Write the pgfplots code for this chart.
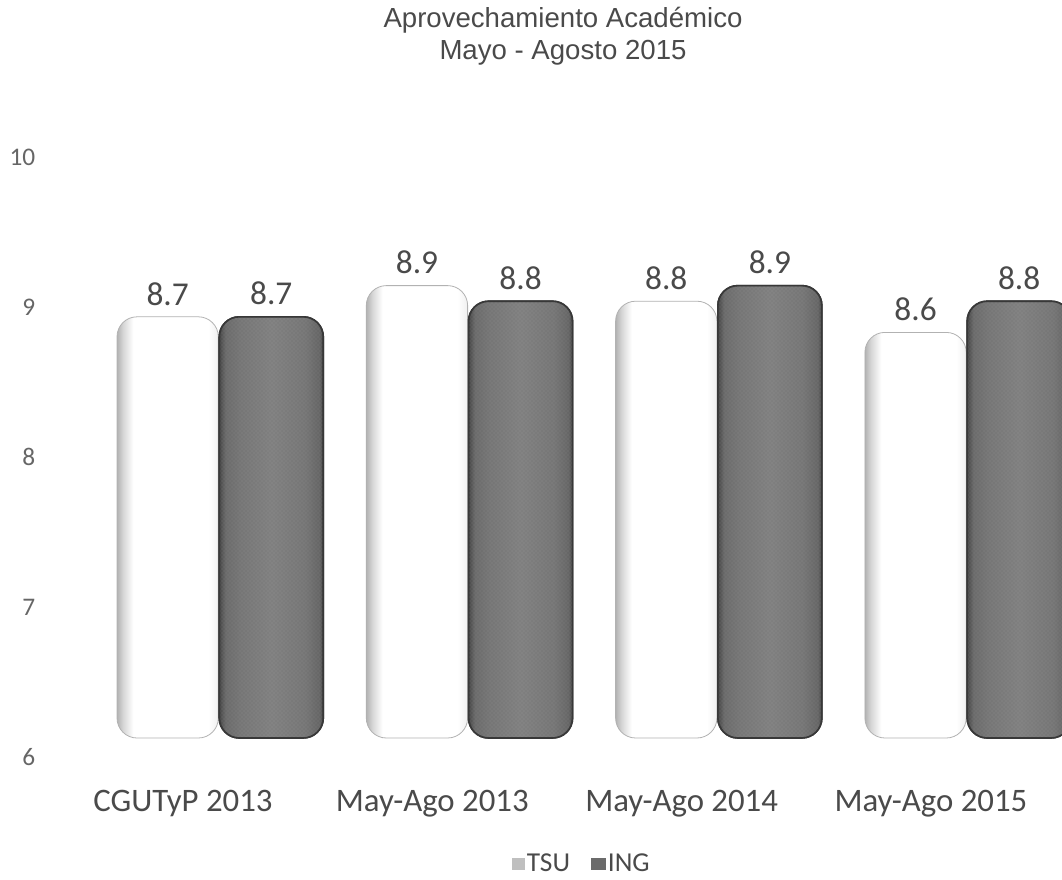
\documentclass[border=0pt]{standalone}
\usepackage{fontspec}
\usepackage{pgfplots}
\usetikzlibrary{patterns}
\pgfplotsset{compat=1.18}
\setmainfont{Carlito}
\newfontfamily\titlefont{Liberation Sans}
\definecolor{txt}{HTML}{4A4A4A}
\definecolor{tick}{HTML}{666666}
\pgfdeclarehorizontalshading{cylW}{100bp}{color(0bp)=(black!30); color(25bp)=(black!30); color(28bp)=(black!16); color(33bp)=(white); color(70bp)=(white); color(75bp)=(black!6); color(100bp)=(black!6)}
\pgfdeclarehorizontalshading{cylD}{100bp}{color(0bp)=(black!72); color(25bp)=(black!72); color(28bp)=(black!58); color(35bp)=(black!54); color(50bp)=(black!50); color(66bp)=(black!54); color(73bp)=(black!60); color(75bp)=(black!72); color(100bp)=(black!72)}
\pgfplotsset{
  tsubar/.style={forget plot,bar shift=-38.5pt,bar width=76pt,draw=black!30,line width=0.6pt,rounded corners=15pt,shade,shading=cylW},
  ingbar/.style={forget plot,bar shift=39.2pt,bar width=78pt,draw=black!78,line width=1.2pt,rounded corners=15pt,shade,shading=cylD,
    postaction={pattern=crosshatch dots,pattern color=black!22,fill opacity=0.55}},
}
\begin{document}
\begin{tikzpicture}[x=0.75pt,y=0.75pt]
\clip (0,0) rectangle (1062,879);
\path (0,0) rectangle (1062,879);
\node[font=\titlefont\fontsize{20.7pt}{24pt}\selectfont,text=txt,align=center,anchor=center] at (563,843) {Aprovechamiento Académico\\Mayo - Agosto 2015};
% value scale
\begin{axis}[
  at={(0pt,91.5pt)},anchor=south west,scale only axis,
  width=796.5pt,height=450pt,
  xmin=0,xmax=1,ymin=6,ymax=10,
  axis line style={draw=none},
  xtick=\empty,
  ytick={6,7,8,9,10},
  ytick style={draw=none},
  yticklabel style={font=\fontsize{19pt}{22pt}\selectfont,text=tick,anchor=east,xshift=30pt},
  /pgf/number format/assume math mode=true,
]
\end{axis}
\begin{axis}[
  at={(0pt,105.75pt)},anchor=south west,scale only axis,
  width=796.5pt,height=468pt,
  xmin=-0.8785,xmax=3.3815,ymin=6,ymax=10,
  axis line style={draw=none},
  ytick=\empty,
  xtick={0,1,2,3},
  xticklabels={CGUTyP 2013,May-Ago 2013,May-Ago 2014,May-Ago 2015},
  xtick style={draw=none},
  xticklabel style={font=\fontsize{24.6pt}{28pt}\selectfont,text=txt,xshift=-27pt,yshift=-31pt},
  ybar,
  nodes near coords,
  every node near coord/.append style={font=\fontsize{25pt}{28pt}\selectfont,text=txt,yshift=5pt,/pgf/number format/.cd,fixed,fixed zerofill,precision=1,assume math mode=true},
  legend style={at={(0.548,-0.202)},anchor=center,draw=none,fill=none,
    legend columns=2,font=\fontsize{20.5pt}{24pt}\selectfont,text=txt,
    /tikz/every even column/.append style={column sep=14pt}},
]
\addlegendimage{legend image code/.code={\fill[black!25] (0pt,-4pt) rectangle (9pt,4pt);}}
\addlegendimage{legend image code/.code={\fill[black!58] (0pt,-4pt) rectangle (10pt,4pt);}}
\addplot[tsubar] coordinates {(0,8.7)};
\addplot[tsubar] coordinates {(1,8.9)};
\addplot[tsubar] coordinates {(2,8.8)};
\addplot[tsubar] coordinates {(3,8.6)};
\addplot[ingbar] coordinates {(0,8.7)};
\addplot[ingbar] coordinates {(1,8.8)};
\addplot[ingbar] coordinates {(2,8.9)};
\addplot[ingbar] coordinates {(3,8.8)};
\legend{TSU,ING}
\end{axis}
\end{tikzpicture}
\end{document}
